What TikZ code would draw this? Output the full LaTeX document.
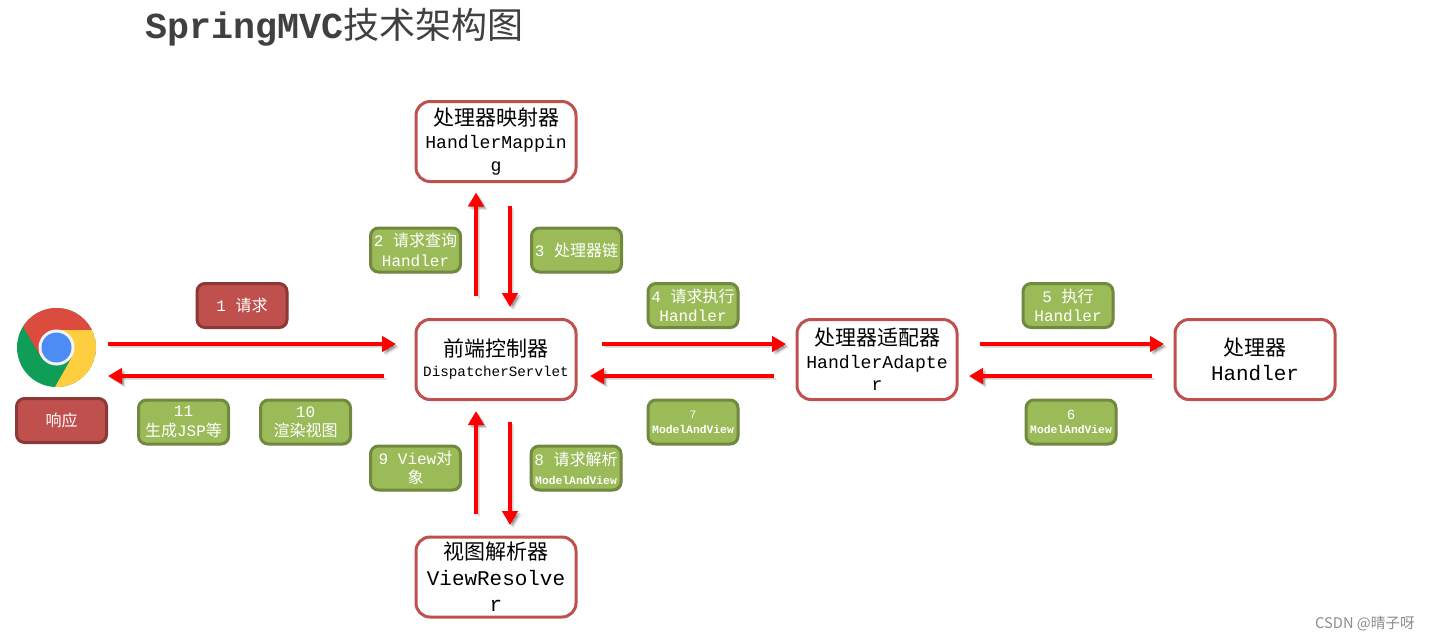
\documentclass[tikz,border=0pt]{standalone}
\usepackage{fontspec}
\setmonofont{Liberation Mono}
\newfontfamily\cjk{Noto Sans CJK SC}
\usetikzlibrary{arrows.meta,shadows}

\newcommand{\zh}[1]{{\cjk #1}}
\newcommand{\zhbig}[1]{{\cjk\fontsize{15.75}{17}\selectfont #1}}

\definecolor{boxred}{HTML}{C0504D}
\definecolor{boxredline}{HTML}{8C3836}
\definecolor{boxgreen}{HTML}{9BBB59}
\definecolor{boxgreenline}{HTML}{71893F}
\definecolor{logored}{HTML}{DB4C3F}
\definecolor{logogreen}{HTML}{0F9D58}
\definecolor{logoyellow}{HTML}{FFCD40}
\definecolor{logoblue}{HTML}{4D8BF5}

\tikzset{
  x=0.75pt, y=-0.75pt,
  mainbox/.style={draw=boxred, fill=white, line width=2.25pt, rounded corners=10.5pt,
    minimum width=120pt, minimum height=60pt, inner sep=0pt, outer sep=0pt, align=center,
    font=\ttfamily\fontsize{13.6}{17}\selectfont},
  tagbox/.style={line width=2.25pt, rounded corners=6pt, text=white,
    minimum width=67.5pt, minimum height=33pt, inner sep=0pt, outer sep=0pt, align=center,
    font=\ttfamily\fontsize{12}{14.5}\selectfont,
    drop shadow={shadow xshift=1pt, shadow yshift=-1pt, opacity=.2, fill=black}},
  greentag/.style={tagbox, draw=boxgreenline, fill=boxgreen},
  redtag/.style={tagbox, draw=boxredline, fill=boxred},
  flow/.style={draw=red, line width=3.6pt, -{Triangle[length=10.5pt,width=11.5pt]},
    preaction={draw=black, opacity=.10, transform canvas={shift={(2.6pt,-2.6pt)}}},
    preaction={draw=black, opacity=.18, transform canvas={shift={(1.5pt,-1.5pt)}}}},
  tiny tag/.style={font=\ttfamily\fontsize{8.5}{11}\selectfont},
}

\begin{document}
\begin{tikzpicture}
  \useasboundingbox[fill=white] (0,0) rectangle (1430,640);

  % title
  \node[anchor=west, inner sep=0pt, text=black!75] (title) at (145,27)
    {\ttfamily\bfseries\fontsize{27.5}{30}\selectfont SpringMVC{\mdseries\zh{\fontsize{27}{30}\selectfont 技术架构图}}};

  % browser logo
  \node[circle, minimum size=59pt, inner sep=0pt, outer sep=0pt] (browser) at (56.5,347.5) {};
  \begin{scope}
    \clip (browser.center) circle (39.5);
    \fill[logogreen] (browser.center) circle (39.5);
    \fill[logored] (56.5,330) -- (100,330) -- (100,300) -- (10.7,300) -- (10.7,306) -- (41,357) -- (56.5,347.5) -- cycle;
    \fill[logoyellow] (56.5,330) -- (100,330) -- (100,395) -- (50.5,395) -- (72,357) -- (56.5,347.5) -- cycle;
  \end{scope}
  \fill[black!4] (browser.center) circle (18);
  \fill[logoblue] (browser.center) circle (15);

  % main boxes
  \node[mainbox] (front) at (496,359.5)
    {\zhbig{前端控制器}\\[-2pt]{\fontsize{10.7}{13}\selectfont DispatcherServlet}};
  \node[mainbox] (mapping) at (496,141.5)
    {\zhbig{处理器映射器}\\HandlerMappin\\g};
  \node[mainbox, font=\ttfamily\fontsize{15.7}{19.5}\selectfont] (resolver) at (496,577)
    {\zhbig{视图解析器}\\ViewResolve\\r};
  \node[mainbox] (adapter) at (877,359.5)
    {\zhbig{处理器适配器}\\HandlerAdapte\\r};
  \node[mainbox] (handler) at (1255,359.5)
    {\zhbig{处理器}\\[2pt]{\fontsize{15.7}{17}\selectfont Handler}};

  % labels
  \node[redtag] (req) at (242,305.5) {1 \zh{请求}};
  \node[redtag] (resp) at (61.5,420.5) {\zh{响应}};
  \node[greentag] (l11) at (183.5,422) {11\\\zh{生成}JSP\zh{等}};
  \node[greentag] (l10) at (305.5,422) {10\\\zh{渲染视图}};
  \node[greentag] (l2) at (415.5,250) {2 \zh{请求查询}\\Handler};
  \node[greentag] (l3) at (576.5,250) {3 \zh{处理器链}};
  \node[greentag] (l4) at (693,305.5) {4 \zh{请求执行}\\Handler};
  \node[greentag] (l5) at (1068,305.5) {5 \zh{执行}\\Handler};
  \node[greentag, tiny tag] (l7) at (693,422) {7\\\textbf{ModelAndView}};
  \node[greentag, tiny tag] (l6) at (1071,422) {{\fontsize{10.5}{11}\selectfont 6}\\\textbf{ModelAndView}};
  \node[greentag] (l9) at (415.5,468) {9 View\zh{对}\\\zh{象}};
  \node[greentag] (l8) at (576,468) {8 \zh{请求解析}\\{\bfseries\fontsize{8.5}{11}\selectfont ModelAndView}};

  % arrows
  \coordinate (browserIn) at (108,344);
  \coordinate (browserOut) at (108,376);
  \draw[flow] (browserIn) -- ([shift={(-20,-15.5)}]front.west);
  \draw[flow] ([shift={(-32,16.5)}]front.west) -- (browserOut);
  \draw[flow] ([shift={(-20,-23.5)}]front.north) -- ([shift={(-20,11)}]mapping.south);
  \draw[flow] ([shift={(14,24)}]mapping.south) -- ([shift={(14,-12.5)}]front.north);
  \draw[flow] ([shift={(-20,-23)}]resolver.north) -- ([shift={(-20,11.5)}]front.south);
  \draw[flow] ([shift={(14,22.5)}]front.south) -- ([shift={(14,-12)}]resolver.north);
  \draw[flow] ([shift={(26,-15.5)}]front.east) -- ([shift={(-11,-15.5)}]adapter.west);
  \draw[flow] ([shift={(-23,16.5)}]adapter.west) -- ([shift={(14,16.5)}]front.east);
  \draw[flow] ([shift={(23,-15.5)}]adapter.east) -- ([shift={(-11,-15.5)}]handler.west);
  \draw[flow] ([shift={(-23,16.5)}]handler.west) -- ([shift={(12,16.5)}]adapter.east);

  % watermark
  \node[anchor=east, inner sep=0pt, text=black!45] (mark) at (1415,624)
    {\cjk\fontsize{11}{12}\selectfont CSDN @晴子呀};
\end{tikzpicture}
\end{document}
